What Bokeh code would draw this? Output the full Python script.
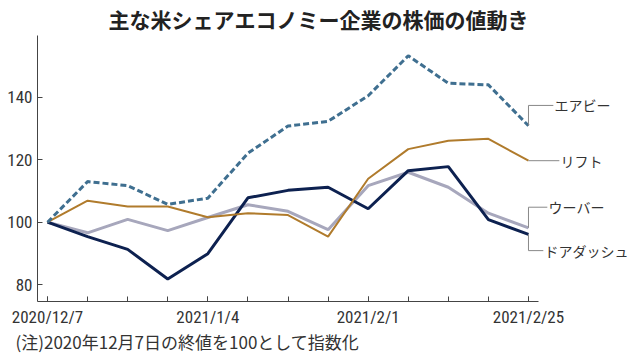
from bokeh.plotting import figure
from bokeh.models import Range1d, FixedTicker, Title
from bokeh.core.properties import value
from bokeh.embed import file_html
from bokeh.resources import INLINE

# ---- data (weekly index, 2020/12/7 close = 100) ----
dates = ["2020/12/7", "2020/12/14", "2020/12/21", "2020/12/28", "2021/1/4",
         "2021/1/11", "2021/1/19", "2021/1/25", "2021/2/1", "2021/2/8",
         "2021/2/16", "2021/2/22", "2021/2/25"]
labeled_dates = ["2020/12/7", "2021/1/4", "2021/2/1", "2021/2/25"]
airbnb = [100, 113.0, 111.7, 105.7, 107.7, 122.1, 130.8, 132.3, 140.5, 153.3, 144.5, 144.0, 130.9]
lyft = [100, 106.9, 105.0, 105.0, 101.6, 102.9, 102.3, 95.4, 113.9, 123.4, 126.1, 126.7, 119.7]
uber = [100, 96.6, 100.9, 97.3, 101.5, 105.6, 103.5, 97.6, 111.7, 116.0, 111.2, 102.9, 98.2]
doordash = [100, 95.4, 91.3, 81.8, 89.9, 107.8, 110.2, 111.2, 104.3, 116.5, 117.8, 100.8, 96.1]
names = ["エアビー", "リフト", "ウーバー", "ドアダッシュ"]
y_ticks = [80, 100, 120, 140]

title_text = "主な米シェアエコノミー企業の株価の値動き"
note_text = "(注)2020年12月7日の終値を100として指数化"

x = list(range(len(dates)))
last = len(dates) - 1

JP = "Noto Sans CJK JP"
NUM = "Roboto Condensed, Liberation Sans Narrow, Liberation Sans, sans-serif"

p = figure(width=638, height=357, output_backend="svg", toolbar_location=None,
           x_range=Range1d(-0.25, 14.695), y_range=Range1d(74.6, 159.8),
           min_border_left=37, min_border_right=2, min_border_top=35,
           min_border_bottom=56, background_fill_color="white",
           border_fill_color="white", outline_line_color=None)
p.xgrid.visible = False
p.ygrid.visible = False

# title
p.title.text = title_text
p.title.text_font = JP
p.title.text_font_size = "21px"
p.title.text_font_style = "bold"
p.title.text_color = "#222222"
p.title.align = "left"
p.title.offset = 71
p.title.standoff = 3

# axes
p.yaxis.ticker = FixedTicker(ticks=y_ticks)
p.yaxis.bounds = (74.6, 159.8)
p.xaxis.ticker = FixedTicker(ticks=[dates.index(d) for d in labeled_dates], minor_ticks=x)
p.xaxis.bounds = (-0.25, 12.25)
p.xaxis.major_label_overrides = {dates.index(d): d for d in labeled_dates}
for ax in (p.xaxis[0], p.yaxis[0]):
    ax.axis_line_color = "#444444"
    ax.axis_line_width = 1
    ax.major_tick_in = 5
    ax.major_tick_out = 0
    ax.major_tick_line_color = "#444444"
    ax.major_label_text_font = NUM
    ax.major_label_text_font_size = "17px"
    ax.major_label_text_font_style = "normal"
    ax.major_label_text_color = "#333333"
    ax.major_label_standoff = 5
p.yaxis.minor_tick_line_color = None
p.xaxis.minor_tick_in = 5
p.xaxis.minor_tick_out = 0
p.xaxis.minor_tick_line_color = "#444444"

# note below the axis
note = Title(text=note_text, text_font=JP, text_font_size="17px",
             text_font_style="normal", text_color="#333333",
             align="left", offset=-22, standoff=-6)
p.add_layout(note, "below")

# lines
p.line(x, uber, line_color="#a7a7bc", line_width=3)
p.line(x, doordash, line_color="#0d2150", line_width=3)
p.line(x, lyft, line_color="#b07b2c", line_width=2)
p.line(x, airbnb, line_color="#3f6f90", line_width=3, line_dash="6 3")

# end labels with leader lines
series = [airbnb, lyft, uber, doordash]
label_offset = [6.5, 0.0, 6.6, -5.2]
hline_end = [12.62, 12.77, 12.47, 12.37]
leader_color = "#888888"
for vals, off, hx, name in zip(series, label_offset, hline_end, names):
    y_end = vals[last]
    y_lab = y_end + off
    if off != 0:
        p.line([last, last], [y_end, y_lab], line_color=leader_color, line_width=1)
    p.line([last, hx], [y_lab, y_lab], line_color=leader_color, line_width=1)
    p.text(x=[hx + 0.03], y=[y_lab], text=[name], text_font=value(JP),
           text_font_size="14px", text_color="#333333",
           text_align="left", text_baseline="middle")

open("out.html", "w").write(file_html(p, INLINE))
